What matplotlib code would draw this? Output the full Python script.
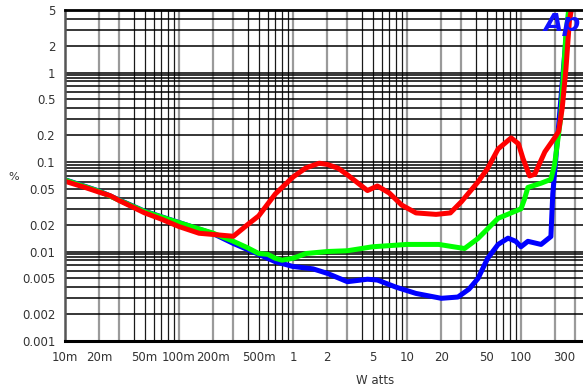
import numpy as np
import matplotlib
matplotlib.use("Agg")
import matplotlib.pyplot as plt
from matplotlib import font_manager

# ---- data ----
red_w = [0.01, 0.015, 0.02, 0.025, 0.03, 0.05, 0.07, 0.1, 0.15, 0.2, 0.3, 0.4, 0.5, 0.7, 1.0,
         1.3, 1.7, 2.0, 2.5, 3.0, 4.0, 4.5, 5.5, 7.0, 9.0, 12, 18, 24, 30, 42, 51, 63, 82, 95, 104,
         119, 132, 162, 197, 214, 230, 248, 266, 283]
red_v = [0.061, 0.052, 0.046, 0.042, 0.037, 0.027, 0.023, 0.019, 0.016, 0.0155, 0.0148, 0.02,
         0.025, 0.044, 0.068, 0.086, 0.097, 0.094, 0.085, 0.072, 0.054, 0.048, 0.054, 0.045, 0.033,
         0.027, 0.026, 0.027, 0.036, 0.06, 0.085, 0.14, 0.186, 0.16, 0.11, 0.07, 0.073, 0.13,
         0.186, 0.22, 0.4, 1.1, 3.8, 6.0]

green_w = [0.01, 0.02, 0.05, 0.1, 0.2, 0.3, 0.4, 0.5, 0.6, 0.7, 0.8, 1.0, 1.3, 2.0, 3.0, 5.0,
           10, 19, 32, 42, 63, 100, 107, 115, 150, 183, 197, 223, 248, 266]
green_v = [0.063, 0.047, 0.028, 0.021, 0.016, 0.013, 0.011, 0.0095, 0.0093, 0.0084, 0.008,
           0.0084, 0.0095, 0.01, 0.0102, 0.0113, 0.012, 0.012, 0.0108, 0.014, 0.0235, 0.03,
           0.038, 0.052, 0.058, 0.064, 0.093, 0.31, 2.7, 6.0]

blue_w = [0.01, 0.02, 0.05, 0.1, 0.2, 0.3, 0.5, 0.7, 1.0, 1.5, 2.0, 3.0, 4.5, 5.5, 8.0, 12,
          20, 28, 35, 42, 51, 63, 77, 90, 100, 115, 150, 183, 190, 201, 250, 283]
blue_v = [0.0635, 0.0473, 0.0282, 0.0211, 0.0158, 0.0123, 0.0093, 0.0077, 0.0068, 0.0064, 0.0057,
          0.0046, 0.0049, 0.0048, 0.004, 0.0034, 0.003, 0.0031, 0.0038, 0.005, 0.0084, 0.012,
          0.0141, 0.013, 0.0113, 0.013, 0.012, 0.0147, 0.044, 0.1, 2.7, 6.0]

x_ticks = [0.01, 0.02, 0.05, 0.1, 0.2, 0.5, 1, 2, 5, 10, 20, 50, 100, 300]
x_labels = ["10m", "20m", "50m", "100m", "200m", "500m", "1", "2", "5", "10", "20", "50", "100", "300"]
y_ticks = [5, 2, 1, 0.5, 0.2, 0.1, 0.05, 0.02, 0.01, 0.005, 0.002, 0.001]
y_labels = ["5", "2", "1", "0.5", "0.2", "0.1", "0.05", "0.02", "0.01", "0.005", "0.002", "0.001"]

names = {f.name for f in font_manager.fontManager.ttflist}
fam = "Liberation Sans Narrow" if "Liberation Sans Narrow" in names else "DejaVu Sans"
plt.rcParams['font.family'] = [fam, 'DejaVu Sans']

fig = plt.figure(figsize=(5.83, 3.90), dpi=100)
W, H = 583, 390
ax = fig.add_axes([65 / W, (390 - 341) / H, 518 / W, 331 / H])
ax.set_xscale('log')
ax.set_yscale('log')
ax.set_xlim(0.01, 350)
ax.set_ylim(0.001, 5)

# vertical grid
for dec in [0.01, 0.1, 1, 10, 100]:
    for m in range(1, 10):
        v = dec * m
        if v <= 0.01 or v > 350:
            continue
        if m <= 3:
            ax.axvline(v, color='#9a9a9a', lw=1.6, zorder=1)
        else:
            ax.axvline(v, color='#1a1a1a', lw=0.9, zorder=1)
# horizontal grid
for dec in [0.01, 0.1, 1, 10]:
    for m in [1, 0.93, 0.86, 0.8, 0.7, 0.6, 0.5, 0.4, 0.3, 0.2]:
        v = dec * m
        if v <= 0.001 or v > 5:
            continue
        ax.axhline(v, color='black', lw=1.1, zorder=1)

ax.plot(blue_w, blue_v, color='#0000ff', lw=3.6, zorder=3, solid_capstyle='round', solid_joinstyle='round')
ax.plot(green_w, green_v, color='#00ff00', lw=3.6, zorder=4, solid_capstyle='round', solid_joinstyle='round')
ax.plot(red_w, red_v, color='#ff0000', lw=3.6, zorder=5, solid_capstyle='round', solid_joinstyle='round')

ax.spines['right'].set_visible(False)
ax.spines['top'].set_linewidth(2.0)
ax.spines['bottom'].set_linewidth(2.2)
ax.spines['left'].set_linewidth(1.8)
ax.spines['left'].set_color('#555555')
for s in ['top', 'bottom', 'left']:
    ax.spines[s].set_zorder(6)

ax.set_xticks(x_ticks)
ax.set_xticklabels(x_labels)
ax.set_yticks(y_ticks)
ax.set_yticklabels(y_labels)
ax.minorticks_off()
ax.tick_params(length=0, labelsize=8.5, colors='#333333', pad=7)
ax.xaxis.get_ticklabels()[-1].set_horizontalalignment('right')

fig.text(14 / W, 1 - 177 / H, "%", fontsize=8, color='#333333', ha='center', va='center')
fig.text(375 / W, 1 - 380 / H, "W atts", fontsize=8.5, color='#333333', ha='center', va='center')
fig.text(581 / W, 1 - 24 / H, "Ap", fontsize=18, fontweight='bold',
         style='italic', color='#1010ff', ha='right', va='center', family='DejaVu Sans', zorder=7)

fig.savefig("out.png", dpi=100)
